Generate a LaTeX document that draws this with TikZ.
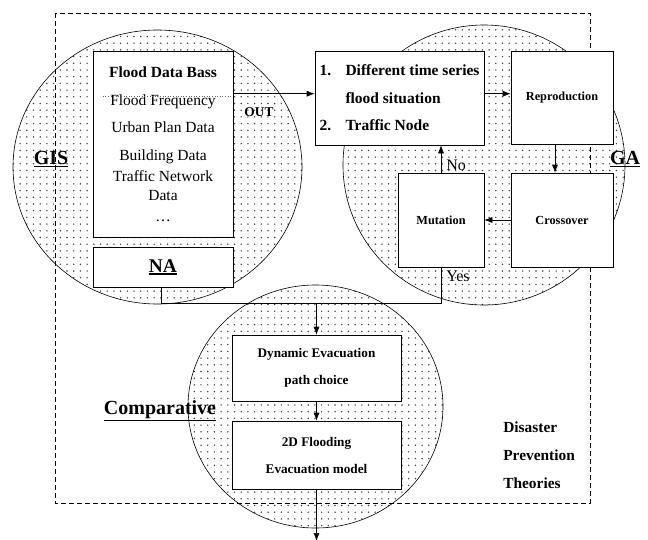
\documentclass[tikz,border=0pt]{standalone}
\usepackage{fontspec}
\setmainfont{Liberation Serif}
\usetikzlibrary{arrows.meta,patterns}

\pgfdeclarepatternformonly{sparsedots}{\pgfqpoint{-1pt}{-1pt}}{\pgfqpoint{1pt}{1pt}}{\pgfqpoint{6.7pt}{6.7pt}}%
  {\pgfpathcircle{\pgfqpoint{0pt}{0pt}}{0.8pt}\pgfusepath{fill}}

\newcommand{\ulbold}[1]{\vtop{\hbox{\bfseries #1}\kern1.2pt\hrule height 1.6pt}}

\tikzset{>={Latex[length=8pt,width=6pt]},
                 zone/.style={draw, line width=0.6pt, pattern=sparsedots, pattern color=black!75},
                 box/.style={draw, fill=white, line width=0.6pt, inner sep=0pt, align=center},
                 gabox/.style={box, font=\fontsize{12.3}{14}\selectfont\bfseries},
                 evbox/.style={box, font=\fontsize{13.2}{27}\selectfont\bfseries},
                 lbl/.style={inner sep=0pt}}

\begin{document}
\begin{tikzpicture}[x=1pt, y=-1pt, line width=0.6pt]
            \useasboundingbox (0,0) rectangle (648,539);

            % dotted regions
            \draw[zone] (157.5,167.0) ellipse [x radius=144.5, y radius=137];
            \draw[zone] (484.0,165.0) ellipse [x radius=141, y radius=140];
            \draw[zone] (315.5,406.5) ellipse [x radius=127.5, y radius=121.5];

            \draw[dashed, dash pattern=on 5pt off 3pt] (55,13) rectangle (590,503);

            \node[box, minimum width=140pt, minimum height=186pt,
                  font=\fontsize{15.5}{27.5}\selectfont] at (163.0,144.0) (flood)
                  {{\bfseries Flood Data Bass}\\ Flood Frequency\\ Urban Plan Data\\ Building Data\\[-6pt]
                   Traffic Network\\[-8.5pt] Data\\[-7pt] \ldots};
            \node[box, minimum width=140pt, minimum height=40pt,
                  font=\fontsize{19.4}{22}\selectfont] at (163.0,267.0) (na) {\ulbold{NA}};

            \node[box, align=left, minimum width=169pt, minimum height=94pt,
                  font=\fontsize{15.5}{27.5}\selectfont\bfseries] at (399.5, 98.0) (list)
                  {\makebox[26pt][l]{1.}Different time series\\
                   \hspace*{26pt}flood situation\\
                   \makebox[26pt][l]{2.}Traffic Node};

            \node[gabox, minimum width=102pt, minimum height=93pt] at (562.0, 97.5) (repro) {Reproduction};
            \node[gabox, minimum width=102pt, minimum height=94pt] at (562.0,220.0) (cross) {Crossover};
            \node[gabox, minimum width= 86pt, minimum height=94pt] at (441.0,220.0) (mut)   {Mutation};

            \node[evbox, minimum width=169pt, minimum height=66pt] at (316.5,368.0) (dyn)   {Dynamic Evacuation\\path choice};
            \node[evbox, minimum width=169pt, minimum height=68pt] at (316.5,455.0) (model) {2D Flooding\\Evacuation model};

            \node[lbl, font=\fontsize{20}{24}\selectfont] at ( 51.0,159.0) (gis)  {\ulbold{GIS}};
            \node[lbl, font=\fontsize{20}{24}\selectfont] at (625.0,159.0) (ga)   {\ulbold{GA}};
            \node[lbl, font=\fontsize{20}{24}\selectfont] at (160.0,411.0) (comp) {\ulbold{Comparative}};

            \node[lbl, anchor=west, align=left, font=\fontsize{15.4}{28}\selectfont\bfseries]
                  at (503.0,455.0) (theory) {Disaster\\Prevention\\Theories};

            \node[lbl, font=\fontsize{13.4}{16}\selectfont\bfseries] at (259.0,112.0) (out) {OUT};
            \node[lbl, anchor=west, font=\fontsize{16}{18}\selectfont] at (446.0,165.0) (no)  {No};
            \node[lbl, anchor=west, font=\fontsize{16}{18}\selectfont] at (446.0,276.0) (yes) {Yes};

            \coordinate (merge) at (316.5,303.0);
            \coordinate (exit)  at (316.5,541.0);

            \draw[dotted, black!60]
                   ([xshift=10pt, yshift=-46pt]flood.north west)
                -- ([xshift=-3pt, yshift=-46pt]flood.north east);

            \draw[->] ([yshift=-43pt]flood.north east) -- ([yshift=-43pt]list.north west);
            \draw[->] ([yshift=-43pt]list.north east)  -- ([yshift=-43pt]repro.north west);
            \draw[->] ([xshift=-7pt]repro.south) -- ([xshift=-7pt]cross.north);
            \draw[->] (cross) -- (mut);
            \draw[->] (mut.north) -- (mut.north |- list.south);

            \draw (mut.south) |- (merge);
            \draw ([xshift=-2pt]na.south) |- (merge);
            \draw[->] (merge) -- (dyn);
            \draw[->] (dyn) -- (model);
            \draw[->] (model) -- (exit);
        \end{tikzpicture}
\end{document}
